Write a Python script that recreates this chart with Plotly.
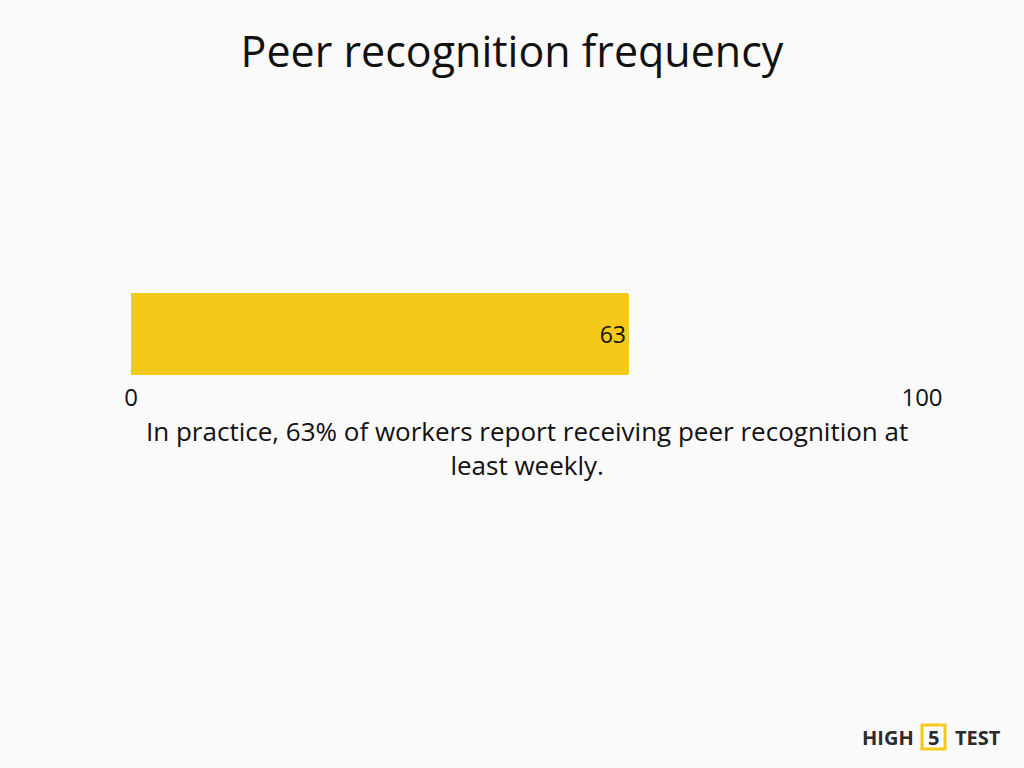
import plotly.graph_objects as go

categories = ["Peer recognition"]
values = [63]
value_labels = ["63"]
tick_values = [0, 100]
tick_labels = ["0", "100"]
title_text = "Peer recognition frequency"
caption_text = "In practice, 63% of workers report receiving peer recognition at<br>least weekly."

FONT = "Open Sans, Lato, sans-serif"
BG = "#FAFAFA"
BAR = "#F5C919"

L, R, T, B = 131, 102, 293, 393
PW, PH = 1024 - L - R, 768 - T - B


def px(x):
    return (x - L) / PW


def py(y):
    return (768 - B - y) / PH


fig = go.Figure()
fig.add_trace(go.Bar(
    y=categories, x=values, orientation="h",
    marker=dict(color=BAR, line=dict(width=0), cornerradius=3),
    width=1.0,
    text=value_labels, textposition="inside", insidetextanchor="end",
    textfont=dict(family=FONT, size=23, color="#111111"),
    hoverinfo="skip",
))

fig.update_layout(
    width=1024, height=768,
    paper_bgcolor=BG, plot_bgcolor=BG,
    margin=dict(l=L, r=R, t=T, b=B),
    showlegend=False,
    title=dict(text=title_text, x=0.5, xanchor="center", y=0.932, yanchor="middle",
               font=dict(family=FONT, size=43, color="#111111")),
    xaxis=dict(range=[0, 100], tickvals=tick_values, ticktext=tick_labels,
               showgrid=True, gridcolor="#E6E6E6", gridwidth=1,
               zeroline=False, showline=False, ticks="", ticklabelstandoff=6,
               tickfont=dict(family=FONT, size=24, color="#111111")),
    yaxis=dict(showticklabels=False, showgrid=False, zeroline=False,
               range=[-0.5, 0.5]),
    bargap=0,
)

fig.add_annotation(text=caption_text, xref="paper", yref="paper",
                   x=0.5, y=py(411), xanchor="center", yanchor="top",
                   showarrow=False, align="center",
                   font=dict(family=FONT, size=26, color="#111111"))

# Logo
logo_y = py(737)
fig.add_annotation(text="<b>HIGH</b>", xref="paper", yref="paper",
                   x=px(888), y=logo_y, xanchor="center", yanchor="middle",
                   showarrow=False, font=dict(family=FONT, size=20, color="#2B2B2B"))
fig.add_annotation(text="<b>5</b>", xref="paper", yref="paper",
                   x=px(933), y=logo_y, xanchor="center", yanchor="middle",
                   showarrow=False, font=dict(family=FONT, size=20, color="#2B2B2B"))
fig.add_annotation(text="<b>TEST</b>", xref="paper", yref="paper",
                   x=px(978), y=logo_y, xanchor="center", yanchor="middle",
                   showarrow=False, font=dict(family=FONT, size=20, color="#2B2B2B"))
fig.add_shape(type="rect", xref="paper", yref="paper",
              x0=px(922), x1=px(945), y0=py(749), y1=py(725),
              line=dict(color=BAR, width=3), fillcolor="rgba(0,0,0,0)")

fig.write_html("out.html", config={"displayModeBar": False},
               post_script="document.body.style.margin='0';")
